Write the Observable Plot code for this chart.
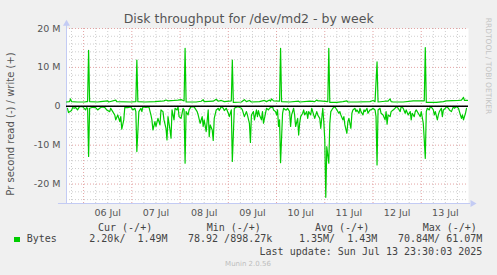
<!DOCTYPE html>
<html><head><meta charset="utf-8">
<script src="https://cdn.jsdelivr.net/npm/d3@7"></script>
<script src="https://cdn.jsdelivr.net/npm/@observablehq/plot@0.6"></script>
<style>
body{margin:0;background:#f0f0f0;}
#wrap{position:relative;width:497px;height:275px;overflow:hidden;font-family:"DejaVu Sans",sans-serif;background:#f0f0f0;}
#wrap svg{position:absolute;left:0;top:0;}
.t{position:absolute;white-space:pre;}
.mono{font-family:"DejaVu Sans Mono",monospace;font-size:10px;line-height:10px;color:#444;}
</style></head><body><div id="wrap"></div>
<script>
// ---- data (half-hour slots since Jul 5 15:30 UTC, values in MB/s) ----
const writeSlot = [0,3,4,5,11,18,20,21,22,23,31,34,41,42,49,50,64,69,70,71,78,88,94,97,99,101,107,111,114,116,117,118,119,129,134,136,137,146,149,151,154,157,162,164,165,166,174,177,179,182,184,192,197,199,202,203,204,206,212,213,214,222,231,232,242,247,249,250,252,260,261,262,269,275,279,280,289,302,305,307,309,310,317,320,322,323,325,335,345,355,356,357,358,368,375,378,390,393,395,396,398,399];
const writeM =    [1.1,1.2,1.9,1.2,1.1,1.1,1.2,1.2,14.4,1.2,1.1,1.2,1.4,1.1,1.6,1.2,1.1,1.2,11.9,1.2,1.1,1.2,1.3,1.4,1.6,1.4,1.5,1.6,1.7,1.5,1.4,14.9,1.1,1.1,1.3,1.7,1.2,1.3,1.8,1.3,1.5,1.2,1.3,1.4,11.9,1.0,1.1,1.7,1.2,1.5,1.1,1.2,1.5,1.2,1.6,1.3,1.9,1.4,1.3,14.9,1.2,1.1,1.3,1.1,1.3,1.2,1.6,1.4,1.4,1.2,14.9,1.0,1.0,1.2,1.4,1.1,1.1,1.2,1.5,1.2,11.4,1.1,1.3,1.3,1.9,1.2,1.1,1.1,1.4,1.4,1.4,15.1,1.0,1.0,1.2,1.4,1.5,1.6,2.3,1.5,1.5,1.5];
const readSlot = [1,2,5,6,8,9,11,13,16,19,20,21,22,23,26,29,31,33,35,38,40,43,44,46,48,49,51,53,54,55,57,58,61,64,66,68,69,70,72,74,75,76,79,82,84,85,86,88,89,91,93,94,96,97,99,100,101,103,104,105,107,108,110,111,112,114,116,117,118,119,121,122,124,127,130,131,133,135,136,137,139,141,142,143,145,146,147,149,151,152,154,156,157,159,161,162,164,165,167,170,172,174,175,177,179,180,182,183,184,186,187,189,190,191,192,194,195,196,198,199,201,202,205,206,208,209,210,211,212,213,215,216,218,219,220,222,223,224,226,227,228,230,231,232,233,235,236,237,239,240,241,243,244,245,247,249,250,252,253,255,256,257,258,259,261,262,263,265,267,268,269,271,272,273,275,276,277,279,280,281,283,284,285,287,288,289,291,292,293,295,296,297,299,300,302,303,305,307,308,309,310,312,313,315,317,318,319,320,322,323,325,327,328,330,332,333,335,337,338,340,342,343,344,346,347,348,350,352,353,355,356,357,358,359,361,362,364,365,366,367,369,370,371,373,374,375,377,378,380,381,383,385,386,388,390,391,393,394,395,397,398];
const readM =    [0.51,1.63,1.11,0.34,0.51,0.26,0.94,0.09,0.09,0.94,0.34,0.5,12.9,0.5,0.26,0.34,0.94,0.51,0.17,0.26,0.94,1.37,0.51,1.37,2.23,3.5,2.23,3.94,2.66,5.9,3.5,0.26,0.34,0.17,0.94,0.51,1.37,11.65,1.37,0.51,1.37,0.17,0.26,0.17,2.23,3.5,6.1,3.94,5.2,3.1,4.8,0.94,1.37,3.5,5.66,8.65,2.66,6.1,8.2,0.94,3.5,0.51,0.94,0.09,2.66,3.1,0.51,0.94,14.65,1.37,2.23,0.94,0.09,0.17,1.37,2.23,4.37,2.66,5.2,3.5,6.5,0.94,7.8,4.8,6.1,8.8,3.1,0.94,0.51,1.1,0.09,0.51,1.1,0.51,1.8,2.66,0.94,14.2,0.51,0.09,0.26,0.51,0.94,2.66,1.37,2.23,4.37,9.3,2.23,1.37,3.5,0.94,2.66,1.1,2.23,3.5,1.37,4.37,1.8,0.51,0.94,0.51,0.09,0.94,1.37,2.23,0.94,5.2,3.5,14.5,1.8,0.51,0.94,0.94,0.51,1.37,5.2,2.23,0.51,2.23,5.2,3.1,7.4,4.37,2.66,1.8,0.94,2.23,1.37,3.1,1.37,2.23,0.51,1.37,3.1,1.37,2.23,3.1,5.66,0.51,3.94,8.65,23.4,10.4,14.65,4.37,1.37,0.51,0.09,0.51,0.94,1.8,1.37,2.23,3.5,2.66,4.8,6.94,3.94,3.1,5.66,1.8,0.94,0.51,1.37,0.94,1.8,0.51,1.37,2.23,0.94,1.37,0.51,1.8,0.94,0.94,0.51,0.94,2.66,15.1,0.94,0.51,1.8,2.23,3.5,1.37,4.6,2.23,2.66,1.37,0.94,0.51,0.09,0.51,1.37,0.09,0.51,1.8,0.94,2.23,1.37,3.5,1.8,2.66,1.37,0.94,1.8,2.66,1.37,4.37,8.65,13.4,1.37,0.51,0.94,0.09,0.51,0.94,2.23,1.37,3.5,2.23,1.37,0.51,2.66,0.94,0.51,0.09,0.51,0.94,1.37,0.09,0.51,0.09,0.51,1.37,3.1,2.23,3.5,1.8,0.51];

const dayNums = [6,7,8,9,10,11,12,13];
const dayLabels = ["06 Jul","07 Jul","08 Jul","09 Jul","10 Jul","11 Jul","12 Jul","13 Jul"];
const yTicks = [-20e6,-10e6,0,10e6,20e6];
const yTickLabels = ["-20 M","-10 M","0","10 M","20 M"];

const title = "Disk throughput for /dev/md2 - by week";
const yLabel = "Pr second read (-) / write (+)";
const legendHeads = ["Cur (-/+)","Min (-/+)","Avg (-/+)","Max (-/+)"];
const seriesName = "Bytes";
const legendVals = ["2.20k/  1.49M","78.92 /898.27k","1.35M/  1.43M","70.84M/ 61.07M"];
const lastUpdate = "Last update: Sun Jul 13 23:30:03 2025";
const sideText = "RRDTOOL / TOBI OETIKER";
const footer = "Munin 2.0.56";

// ---- build ----
const HALF = 1800000;
const start = Date.UTC(2025,6,5,15,30);
const end = start + 400*HALF;
const t = s => new Date(start + s*HALF);
const writeData = writeSlot.map((s,i)=>({date:t(s), v: writeM[i]*1e6}));
const readData = readSlot.map((s,i)=>({date:t(s), v: -readM[i]*1e6}));

const sixHours = d3.utcHour.every(6).range(new Date(start), new Date(end));
const midnights = sixHours.filter(d => d.getUTCHours() === 0);
const minorX = sixHours.filter(d => d.getUTCHours() !== 0);
const minorY = d3.range(-24e6, 20e6 + 1, 2e6).filter(v => v % 10e6 !== 0);
const noons = dayNums.map(d => new Date(Date.UTC(2025,6,d,12)));
const dayMap = new Map(noons.map((d,i)=>[+d, dayLabels[i]]));
const yMap = new Map(yTicks.map((v,i)=>[v, yTickLabels[i]]));

const axisColor = "#c3cbf4";
const chart = Plot.plot({
  width: 497, height: 275,
  marginLeft: 66, marginRight: 29, marginTop: 28, marginBottom: 72,
  style: {fontFamily: "DejaVu Sans", fontSize: "9.5px", background: "transparent", overflow: "visible"},
  x: {type: "utc", domain: [new Date(start), new Date(end)], axis: null},
  y: {domain: [-25e6, 20e6], axis: null},
  marks: [
    Plot.frame({fill: "white", stroke: null}),
    Plot.ruleY(minorY, {stroke: "#cfcfcf", strokeDasharray: "1,2"}),
    Plot.ruleX(minorX, {stroke: "#cfcfcf", strokeDasharray: "1,2"}),
    Plot.ruleY(yTicks, {stroke: "#e3a3a3", strokeDasharray: "1,2"}),
    Plot.ruleX(midnights, {stroke: "#e3a3a3", strokeDasharray: "1,2"}),
    Plot.ruleX([new Date(start)], {y1: -25e6, y2: 21e6, stroke: axisColor}),
    Plot.ruleY([-25e6], {x1: new Date(start - 8*HALF), x2: new Date(end + 2*HALF), stroke: axisColor}),
    Plot.dot([0], {x: () => new Date(start), y: () => 21.2e6, symbol: "triangle", r: 2.6, fill: axisColor, stroke: null}),
    Plot.dot([0], {x: () => new Date(end + 4*HALF), y: () => -25e6, symbol: "triangle", r: 2.6, rotate: 90, fill: axisColor, stroke: null}),
    Plot.line(readData, {x: "date", y: "v", stroke: "#00cc00", strokeWidth: 1.2}),
    Plot.line(writeData, {x: "date", y: "v", stroke: "#00cc00", strokeWidth: 1.2}),
    Plot.ruleY([0], {stroke: "#000", strokeWidth: 1.6}),
    Plot.axisY(yTicks, {tickSize: 0, tickPadding: 6, tickFormat: d => yMap.get(d), color: "#555", label: null}),
    Plot.axisX(noons, {tickSize: 0, tickPadding: 5.5, tickFormat: d => dayMap.get(+d), color: "#555", label: null})
  ]
});
const wrap = document.getElementById("wrap");
wrap.appendChild(chart);

function addText(txt, css, cls) {
  const el = document.createElement("div");
  el.className = "t" + (cls ? " " + cls : "");
  el.textContent = txt;
  Object.assign(el.style, css);
  wrap.appendChild(el);
  return el;
}
addText(title, {left: "248.7px", top: "12.6px", fontSize: "12.5px", lineHeight: "12.5px", color: "#555", transform: "translateX(-50%)"});
addText(yLabel, {left: "10.7px", top: "124px", fontSize: "10px", lineHeight: "10px", color: "#555", transform: "translate(-50%,-50%) rotate(-90deg)"});
addText(sideText, {left: "488px", top: "66px", fontSize: "7.5px", lineHeight: "7.5px", color: "#c4c4c4", transform: "translate(-50%,-50%) rotate(90deg)"});
const headX = [98, 206.7, 315, 422.7];
legendHeads.forEach((h,i) => addText(h, {left: headX[i] + "px", top: "222.8px"}, "mono"));
const sq = document.createElement("div");
Object.assign(sq.style, {position: "absolute", left: "14px", top: "236.6px", width: "5.6px", height: "5.6px", background: "#00cc00"});
wrap.appendChild(sq);
addText(seriesName, {left: "26.7px", top: "234.4px"}, "mono");
const valX = [89.3, 188, 299, 398];
legendVals.forEach((v,i) => addText(v, {left: valX[i] + "px", top: "234.4px"}, "mono"));
addText(lastUpdate, {right: (497 - 482.3) + "px", top: "246.8px"}, "mono");
addText(footer, {left: "248px", top: "260.8px", fontSize: "7px", lineHeight: "7px", color: "#bdbdbd", transform: "translateX(-50%)"});
</script></body></html>
